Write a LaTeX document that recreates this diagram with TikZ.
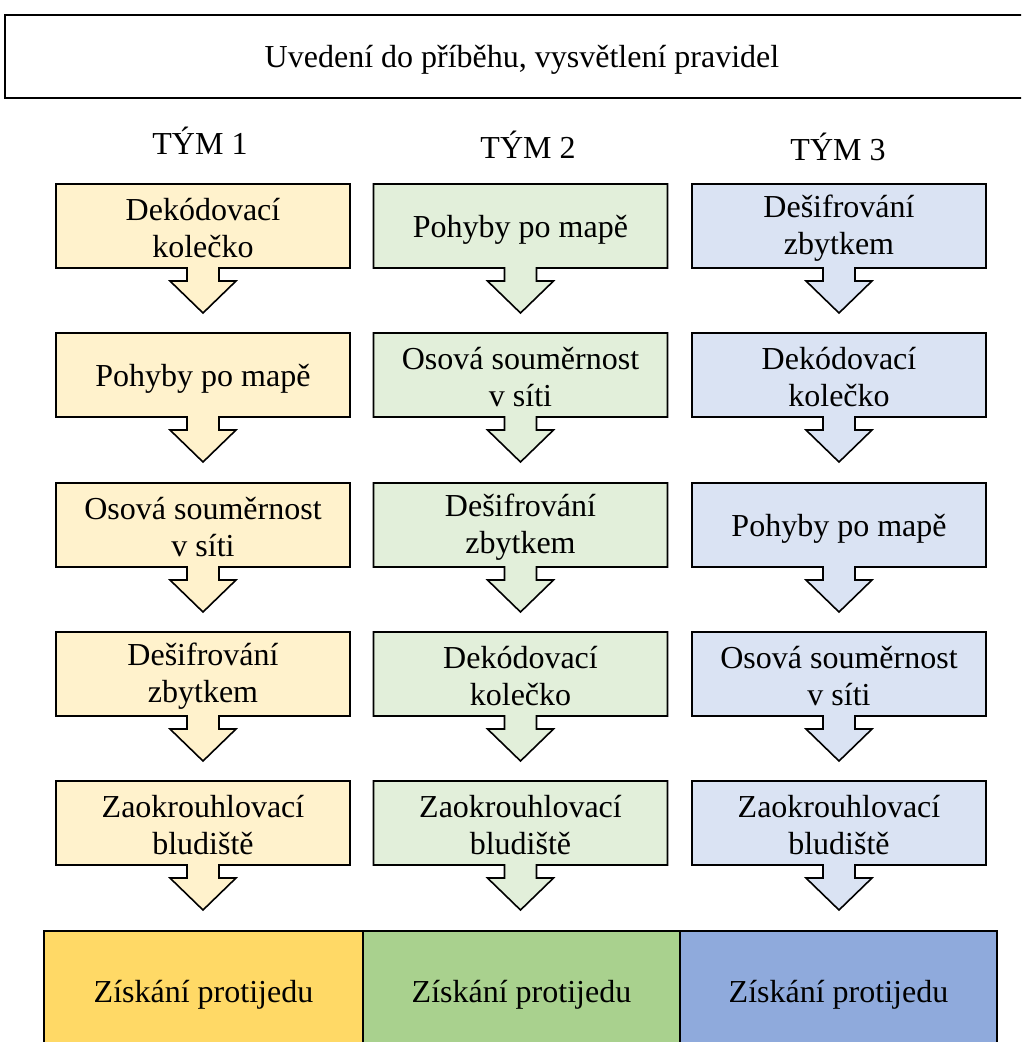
\documentclass[tikz,border=0pt]{standalone}
\usepackage{fontspec}
\setmainfont{Liberation Serif}
\definecolor{yL}{HTML}{FFF2CC}
\definecolor{gL}{HTML}{E2EFDA}
\definecolor{bL}{HTML}{DAE3F3}
\definecolor{yD}{HTML}{FFD966}
\definecolor{gD}{HTML}{A9D18E}
\definecolor{bD}{HTML}{8FAADC}
\tikzset{
  callout/.style={draw=black, line width=1.6pt, line join=miter},
  lbl/.style={align=center, font=\fontsize{32}{37}\selectfont, inner sep=0pt, text=black},
  cell/.style={draw=black, line width=2pt},
}
% #1 name, #2 x centre, #3 y top, #4 fill, #5 text, #6 text offset
\newcommand\calloutbox[6]{%
  \path[callout, fill=#4] (#2-147,#3) -- (#2+147,#3) -- (#2+147,#3+84)
    -- (#2+16,#3+84) -- (#2+16,#3+97) -- (#2+33,#3+97) -- (#2,#3+129)
    -- (#2-33,#3+97) -- (#2-16,#3+97) -- (#2-16,#3+84) -- (#2-147,#3+84) -- cycle;
  \node[lbl] (#1) at (#2,#3+42+#6) {#5};
}
\begin{document}
\begin{tikzpicture}[x=1pt,y=-1pt]
\clip (0,0) rectangle (1021,1042);
\fill[white] (0,0) rectangle (1021,1042);
% intro box
\draw[line width=2.4pt] (5,15) rectangle (1045,98);
\node[lbl] (intro) at (522,60) {Uvedení do příběhu, vysvětlení pravidel};
% team headers
\node[lbl, anchor=base] (t1) at (200,154) {TÝM 1};
\node[lbl, anchor=base] (t2) at (528,158) {TÝM 2};
\node[lbl, anchor=base] (t3) at (838,160) {TÝM 3};
% column 1
\calloutbox{a1}{203}{184}{yL}{Dekódovací\\kolečko}{2}
\calloutbox{a2}{203}{333}{yL}{Pohyby po mapě}{4}
\calloutbox{a3}{203}{483}{yL}{Osová souměrnost\\v síti}{2}
\calloutbox{a4}{203}{632}{yL}{Dešifrování\\zbytkem}{2}
\calloutbox{a5}{203}{781}{yL}{Zaokrouhlovací\\bludiště}{2}
% column 2
\calloutbox{b1}{520.5}{184}{gL}{Pohyby po mapě}{4}
\calloutbox{b2}{520.5}{333}{gL}{Osová souměrnost\\v síti}{2}
\calloutbox{b3}{520.5}{483}{gL}{Dešifrování\\zbytkem}{2}
\calloutbox{b4}{520.5}{632}{gL}{Dekódovací\\kolečko}{2}
\calloutbox{b5}{520.5}{781}{gL}{Zaokrouhlovací\\bludiště}{2}
% column 3
\calloutbox{c1}{839}{184}{bL}{Dešifrování\\zbytkem}{2}
\calloutbox{c2}{839}{333}{bL}{Dekódovací\\kolečko}{2}
\calloutbox{c3}{839}{483}{bL}{Pohyby po mapě}{4}
\calloutbox{c4}{839}{632}{bL}{Osová souměrnost\\v síti}{2}
\calloutbox{c5}{839}{781}{bL}{Zaokrouhlovací\\bludiště}{2}
% bottom cells
\draw[cell, fill=yD] (44,931) rectangle (363,1060);
\draw[cell, fill=gD] (363,931) rectangle (680,1060);
\draw[cell, fill=bD] (680,931) rectangle (997,1060);
\node[lbl] (r1) at (203.5,995) {Získání protijedu};
\node[lbl] (r2) at (521.5,995) {Získání protijedu};
\node[lbl] (r3) at (838.5,995) {Získání protijedu};
\end{tikzpicture}
\end{document}
